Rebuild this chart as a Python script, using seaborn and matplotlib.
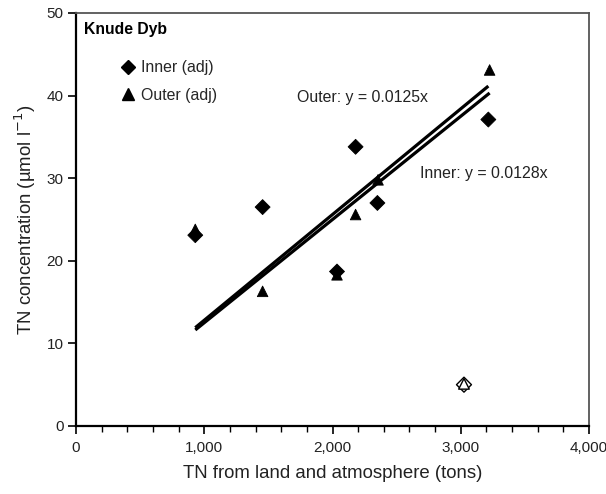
import matplotlib
matplotlib.use("Agg")
import matplotlib.pyplot as plt
import seaborn as sns
import pandas as pd
import numpy as np
from matplotlib.lines import Line2D
from matplotlib.ticker import MultipleLocator, FuncFormatter

sns.set_theme(style="white")
plt.rcParams['font.family'] = ['Liberation Sans', 'DejaVu Sans']

# Data
inner_x = [930, 1455, 2035, 2180, 2350, 3215]
inner_y = [23.1, 26.5, 18.7, 33.8, 27.0, 37.1]
outer_x = [930, 1455, 2035, 2180, 2355, 3225]
outer_y = [23.8, 16.3, 18.3, 25.6, 29.8, 43.1]
outlier_x = [3025, 3025]
outlier_y = [5.0, 5.1]
outlier_series = ["Inner (adj)", "Outer (adj)"]
inner_slope = 0.0128
outer_slope = 0.0125
x_ticks = [0, 1000, 2000, 3000, 4000]
y_ticks = [0, 10, 20, 30, 40, 50]

df = pd.DataFrame({
    "x": inner_x + outer_x,
    "y": inner_y + outer_y,
    "Series": ["Inner (adj)"] * len(inner_x) + ["Outer (adj)"] * len(outer_x),
})
df_out = pd.DataFrame({"x": outlier_x, "y": outlier_y, "Series": outlier_series})

markers = {"Inner (adj)": "D", "Outer (adj)": "^"}

fig = plt.figure(figsize=(6.06, 4.94), dpi=100)
ax = fig.add_axes([0.1254, 0.1377, 0.972 - 0.1254, 0.9737 - 0.1377])

# regression lines through origin
xi = np.array([min(inner_x), max(inner_x)])
xo = np.array([min(outer_x), max(outer_x)])
ax.plot(xo, outer_slope * xo, color="black", lw=2.3, solid_capstyle="butt", zorder=2)
ax.plot(xi, inner_slope * xi, color="black", lw=2.3, solid_capstyle="butt", zorder=2)

sns.scatterplot(data=df, x="x", y="y", style="Series", markers=markers,
                color="black", edgecolor="black", s=58, legend=False, ax=ax, zorder=3)
sns.scatterplot(data=df_out, x="x", y="y", style="Series", markers=markers,
                facecolor="white", edgecolor="black", linewidth=1.0, s=58,
                legend=False, ax=ax, zorder=3)

ax.set_xlim(0, 4000)
ax.set_ylim(0, 50)
ax.set_xticks(x_ticks)
ax.set_yticks(y_ticks)
ax.xaxis.set_minor_locator(MultipleLocator(200))
ax.xaxis.set_major_formatter(FuncFormatter(lambda v, p: f"{int(v):,}"))
ax.tick_params(axis="x", which="major", direction="out", length=6, width=1.2, colors="black",
               labelsize=11, pad=5, bottom=True)
ax.tick_params(axis="x", which="minor", direction="out", length=4, width=1.0, colors="black", bottom=True)
ax.tick_params(axis="y", which="major", direction="out", length=6, width=1.2, colors="black",
               labelsize=11, pad=3, left=True)
for lab in ax.get_xticklabels() + ax.get_yticklabels():
    lab.set_color("#222222")

for side in ["left", "bottom"]:
    ax.spines[side].set_color("black")
    ax.spines[side].set_linewidth(1.6)
for side in ["top", "right"]:
    ax.spines[side].set_color("#555555")
    ax.spines[side].set_linewidth(1.3)

ax.set_xlabel("TN from land and atmosphere (tons)", fontsize=13.4, color="#222222", labelpad=7)
ax.set_ylabel("TN concentration (µmol l$^{-1}$)", fontsize=13.4, color="#222222", labelpad=6)

ax.text(0.016, 0.96, "Knude Dyb", transform=ax.transAxes, fontsize=11.3,
        fontweight="bold", ha="left", va="center", color="black")

handles = [Line2D([], [], marker="D", color="black", ls="none", markersize=7.5),
           Line2D([], [], marker="^", color="black", ls="none", markersize=9)]
ax.legend(handles, ["Inner (adj)", "Outer (adj)"], loc="upper left",
          bbox_to_anchor=(0.05, 0.92), frameon=False, fontsize=11.4,
          handletextpad=0.1, labelspacing=0.78, handlelength=1.5)

ax.text(1722, 39.8, "Outer: y = 0.0125x", fontsize=11.4, ha="left", va="center", color="#222222")
ax.text(2681, 30.6, "Inner: y = 0.0128x", fontsize=11.4, ha="left", va="center", color="#222222")

fig.savefig("out.png", dpi=100)
